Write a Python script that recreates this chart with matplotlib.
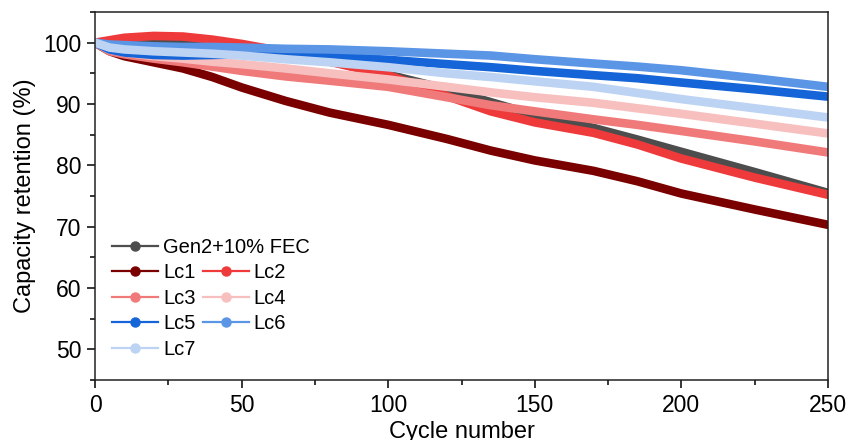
import matplotlib
matplotlib.use("Agg")
import matplotlib.pyplot as plt
from matplotlib.lines import Line2D
from matplotlib.ticker import MultipleLocator

plt.rcParams["font.family"] = ["Liberation Sans", "DejaVu Sans"]

# values, capacity retention (%) vs cycle
cycles = [0, 5, 10, 20, 30, 40, 50, 65, 80, 100, 120, 135, 150, 170, 185, 200, 225, 250]

gen2 = [100, 99.9, 99.9, 99.8, 99.8, 99.6, 99.2, 98.3, 97.0, 94.8, 92.4, 90.3, 88.2, 86.1, 84.2, 82.2, 78.9, 75.5]
lc1 = [100, 98.6, 97.8, 96.8, 95.8, 94.4, 92.7, 90.5, 88.6, 86.6, 84.3, 82.4, 80.8, 79.1, 77.4, 75.4, 72.8, 70.3]
lc2 = [100, 100.4, 100.8, 101.1, 101.0, 100.5, 99.8, 98.5, 96.9, 94.7, 91.3, 88.8, 87.0, 85.3, 83.4, 81.1, 78.0, 75.2]
lc3 = [100, 98.6, 98.1, 97.4, 96.8, 96.1, 95.4, 94.5, 93.8, 92.8, 91.1, 89.8, 88.8, 87.5, 86.6, 85.6, 83.9, 82.1]
lc4 = [100, 98.9, 98.4, 97.8, 97.4, 96.9, 96.5, 95.8, 95.0, 94.0, 92.8, 91.9, 91.1, 90.2, 89.3, 88.4, 86.8, 85.2]
lc5 = [100, 98.9, 98.4, 98.0, 97.9, 98.0, 98.1, 98.2, 97.8, 97.2, 96.5, 96.0, 95.4, 94.7, 94.2, 93.5, 92.4, 91.2]
lc6 = [100, 99.7, 99.6, 99.4, 99.3, 99.3, 99.2, 99.0, 98.9, 98.6, 98.2, 97.9, 97.3, 96.6, 96.1, 95.5, 94.2, 92.8]
lc7 = [100, 99.2, 98.9, 98.6, 98.4, 98.2, 97.9, 97.3, 96.8, 96.0, 95.0, 94.4, 93.7, 92.8, 91.8, 90.8, 89.3, 87.8]

labels = ["Gen2+10% FEC", "Lc1", "Lc2", "Lc3", "Lc4", "Lc5", "Lc6", "Lc7"]
series = [gen2, lc1, lc2, lc3, lc4, lc5, lc6, lc7]
colors = ["#4d4d4d", "#7a0000", "#ee3a3a", "#f07a7a", "#f8bfbf", "#1565d8", "#5b95e6", "#bcd3f3"]

fig = plt.figure(figsize=(8.49, 4.40), dpi=100)
ax = fig.add_axes([0.1119, 0.1364, 0.8634, 0.8363])

for y, c in zip(series, colors):
    ax.plot(cycles, y, color=c, lw=6.2, solid_capstyle="round", solid_joinstyle="round")

ax.set_xlim(0, 250)
ax.set_ylim(45, 105)
ax.xaxis.set_major_locator(MultipleLocator(50))
ax.xaxis.set_minor_locator(MultipleLocator(25))
ax.yaxis.set_major_locator(MultipleLocator(10))
ax.yaxis.set_minor_locator(MultipleLocator(5))
ax.set_yticks([50, 60, 70, 80, 90, 100])
ax.tick_params(which="major", direction="out", length=6, width=1.1, labelsize=16.5, pad=4)
ax.tick_params(which="minor", direction="out", length=3.8, width=1.1)
for sp in ax.spines.values():
    sp.set_linewidth(1.1)
    sp.set_color("#222222")

ax.set_xlabel("Cycle number", fontsize=17, labelpad=3)
ax.set_ylabel("Capacity retention (%)", fontsize=17, labelpad=5)

def handle(c):
    return Line2D([], [], color=c, lw=1.6, marker="o", ms=6.5)

handles = [handle(c) for c in colors]
leg_kw = dict(frameon=False, fontsize=14.5, handlelength=2.3, handletextpad=0.25,
              borderpad=0, borderaxespad=0, loc="center left")
leg1 = ax.legend([handles[0]], [labels[0]], bbox_to_anchor=(0.0232, 0.36), **leg_kw)
ax.add_artist(leg1)
order = [1, 3, 5, 7, 2, 4, 6]
ax.legend([handles[i] for i in order], [labels[i] for i in order], ncol=2,
          columnspacing=0.33, labelspacing=0.33,
          bbox_to_anchor=(0.0232, 0.187), **leg_kw)

fig.savefig("out.png", dpi=100)
